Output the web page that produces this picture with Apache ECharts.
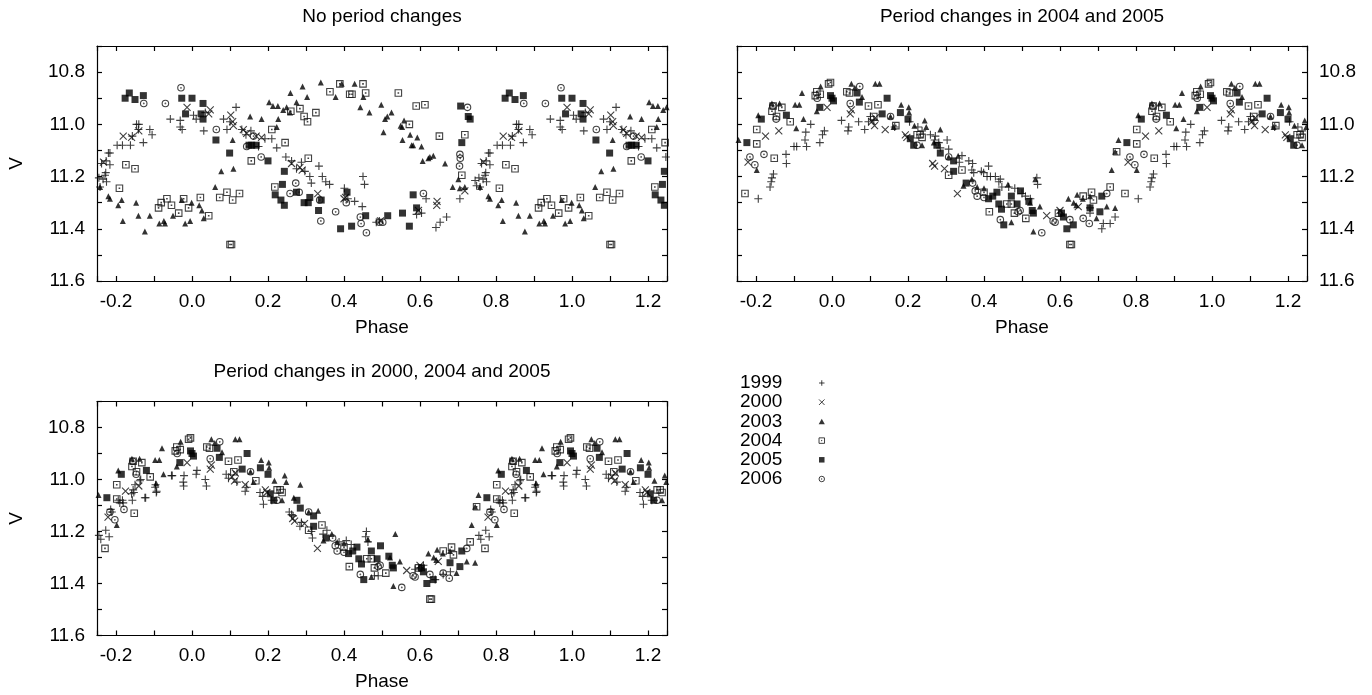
<!DOCTYPE html>
<html>
<head>
<meta charset="utf-8">
<title>Phase diagrams</title>
<script src="https://cdn.jsdelivr.net/npm/echarts@6/dist/echarts.min.js"></script>
<style>
  html, body { margin: 0; padding: 0; background: #fff; }
  #chart { width: 1372px; height: 695px; }
</style>
</head>
<body>
<div id="chart"></div>
<script>
// phase in [0,1), V magnitude; folded copies are added for -0.25..1.25
// panel 1: no period changes
const p1_1999 = [[0.755,11.205],[0.758,11.24],[0.766,11.21],[0.773,11.185],[0.784,11.155],[0.784,11.11],[0.803,11.08],[0.817,11.08],[0.838,11.08],[0.843,11.045],[0.860,11.00],[0.872,11.07],[0.889,11.02],[0.895,11.04],[0.943,10.98],[0.969,10.985],[0.969,11.01],[0.974,11.02],[0.004,10.965],[0.011,10.98],[0.031,11.025],[0.035,10.955],[0.083,10.98],[0.092,11.02],[0.116,10.935],[0.100,10.99],[0.131,11.02],[0.142,11.04],[0.155,11.025],[0.192,11.055],[0.210,11.055],[0.223,11.09],[0.175,11.085],[0.247,11.125],[0.262,11.14],[0.275,11.17],[0.288,11.145],[0.297,11.18],[0.310,11.20],[0.314,11.225],[0.334,11.16],[0.343,11.20],[0.352,11.22],[0.362,11.23],[0.401,11.245],[0.410,11.285],[0.428,11.295],[0.448,11.315],[0.450,11.20],[0.454,11.23],[0.485,11.375],[0.493,11.37],[0.591,11.345],[0.604,11.34],[0.616,11.285],[0.642,11.395],[0.653,11.375],[0.670,11.355],[0.705,11.285],[0.749,11.235],[0.745,11.215],[0.771,11.195],[0.775,11.22],[0.780,11.11],[0.762,11.15],[0.774,11.14],[0.854,11.00],[0.859,11.02]];
const p1_2000 = [[0.767,11.145],[0.819,11.045],[0.841,11.05],[0.860,11.025],[0.987,10.935],[0.048,10.945],[0.044,10.96],[0.102,10.965],[0.107,10.99],[0.109,11.005],[0.135,11.02],[0.144,11.035],[0.169,11.045],[0.183,11.05],[0.262,11.15],[0.290,11.175],[0.284,11.165],[0.331,11.265],[0.400,11.285],[0.404,11.28],[0.496,11.37],[0.596,11.33],[0.644,11.31],[0.645,11.295],[0.718,11.255]];
const p1_2003 = [[0.026,11.33],[0.031,11.36],[0.061,11.24],[0.077,11.18],[0.109,11.17],[0.107,11.06],[0.153,10.97],[0.183,10.98],[0.203,10.915],[0.213,10.93],[0.226,10.93],[0.240,10.945],[0.249,10.935],[0.258,10.955],[0.223,11.01],[0.227,10.98],[0.259,10.88],[0.275,10.915],[0.291,10.855],[0.303,10.895],[0.339,10.84],[0.378,10.895],[0.394,10.845],[0.428,10.845],[0.443,10.935],[0.451,10.895],[0.467,10.955],[0.498,10.925],[0.508,10.98],[0.514,10.97],[0.504,11.03],[0.525,10.955],[0.549,11.005],[0.553,11.01],[0.558,10.985],[0.554,11.06],[0.574,11.04],[0.578,11.08],[0.582,11.08],[0.593,11.05],[0.604,11.085],[0.607,11.14],[0.622,11.13],[0.626,11.125],[0.635,11.12],[0.666,11.15],[0.686,11.24],[0.701,11.21],[0.705,11.245],[0.718,11.24],[0.758,11.24],[0.780,11.275],[0.784,11.285],[0.806,11.31],[0.815,11.29],[0.818,11.37],[0.853,11.30],[0.859,11.35],[0.876,11.41],[0.889,11.35],[0.914,11.38],[0.926,11.37],[0.929,11.38],[0.950,11.35],[0.973,11.29],[0.982,11.38],[0.995,11.37],[0.999,11.30],[0.019,11.31]];
const p1_2004 = [[0.022,11.28],[0.044,11.35],[0.073,11.28],[0.092,11.26],[0.107,11.29],[0.125,11.265],[0.100,11.46],[0.104,11.46],[0.156,11.14],[0.210,11.02],[0.218,11.24],[0.245,11.07],[0.260,10.95],[0.284,10.94],[0.295,10.97],[0.304,10.99],[0.326,10.955],[0.306,11.13],[0.363,10.875],[0.389,10.845],[0.415,10.885],[0.421,10.885],[0.450,10.845],[0.457,10.88],[0.543,10.88],[0.590,10.93],[0.613,10.925],[0.572,11.00],[0.651,11.045],[0.718,11.04],[0.710,11.195],[0.809,11.245],[0.826,11.155],[0.850,11.17],[0.912,11.32],[0.919,11.30],[0.934,11.285],[0.946,11.31],[0.965,11.34],[0.978,11.285],[0.991,11.32]];
const p1_2005 = [[0.000,10.90],[0.029,10.92],[0.024,10.96],[0.029,10.98],[0.063,11.06],[0.099,11.11],[0.150,11.08],[0.157,11.08],[0.169,11.08],[0.200,11.14],[0.243,11.18],[0.238,11.23],[0.219,11.27],[0.234,11.29],[0.243,11.31],[0.275,11.26],[0.295,11.30],[0.306,11.30],[0.310,11.28],[0.340,11.29],[0.333,11.33],[0.408,11.26],[0.391,11.40],[0.420,11.39],[0.457,11.35],[0.515,11.35],[0.554,11.34],[0.572,11.39],[0.582,11.27],[0.591,11.32],[0.707,10.93],[0.727,10.97],[0.732,10.98],[0.710,11.07],[0.824,10.90],[0.835,10.88],[0.850,10.905],[0.872,10.89],[0.973,10.90],[0.983,10.96]];
const p1_2006 = [[0.971,10.86],[0.930,10.92],[0.873,10.92],[0.064,11.02],[0.144,11.085],[0.162,11.045],[0.182,11.125],[0.273,11.225],[0.258,11.265],[0.282,11.26],[0.336,11.29],[0.339,11.37],[0.378,11.335],[0.406,11.30],[0.443,11.355],[0.445,11.38],[0.459,11.415],[0.493,11.375],[0.502,11.375],[0.609,11.265],[0.725,10.935],[0.705,11.115],[0.706,11.13],[0.704,11.16]];

// panel 2: period changes in 2004 and 2005 (2000-2006 also used in panel 3)
const p2_1999 = [[0.025,10.985],[0.044,11.01],[0.042,11.025],[0.070,10.99],[0.086,11.02],[0.096,10.99],[0.101,10.97],[0.110,10.985],[0.165,11.01],[0.204,10.99],[0.226,11.01],[0.237,11.025],[0.259,11.04],[0.272,11.045],[0.270,11.06],[0.281,11.07],[0.285,11.09],[0.303,11.06],[0.307,11.095],[0.342,11.12],[0.335,11.145],[0.360,11.14],[0.370,11.15],[0.368,11.175],[0.373,11.185],[0.393,11.18],[0.399,11.185],[0.412,11.16],[0.408,11.20],[0.417,11.20],[0.430,11.20],[0.439,11.22],[0.443,11.21],[0.447,11.24],[0.465,11.24],[0.481,11.245],[0.500,11.265],[0.509,11.275],[0.522,11.285],[0.539,11.205],[0.541,11.23],[0.679,11.32],[0.679,11.34],[0.710,11.40],[0.714,11.38],[0.732,11.38],[0.745,11.355],[0.806,11.285],[0.837,11.24],[0.840,11.22],[0.842,11.205],[0.846,11.19],[0.879,11.115],[0.880,11.15],[0.900,11.085],[0.907,11.085],[0.929,11.06],[0.933,11.085],[0.931,11.03],[0.944,11.00],[0.968,11.07],[0.975,11.04],[0.980,11.025]];
const p2_2000 = [[0.987,10.935],[0.048,10.96],[0.051,10.945],[0.105,10.99],[0.112,11.005],[0.114,10.975],[0.140,11.02],[0.193,11.04],[0.197,11.05],[0.265,11.15],[0.270,11.16],[0.296,11.17],[0.330,11.265],[0.565,11.35],[0.600,11.33],[0.648,11.315],[0.779,11.145],[0.825,11.045],[0.860,11.025]];
const p2_2003 = [[0.051,10.845],[0.060,10.86],[0.114,10.845],[0.125,10.845],[0.079,10.895],[0.154,10.97],[0.162,11.01],[0.182,10.925],[0.202,10.935],[0.203,10.955],[0.217,11.005],[0.244,10.985],[0.248,11.01],[0.285,11.02],[0.237,11.08],[0.268,11.07],[0.307,11.125],[0.332,11.12],[0.368,11.21],[0.346,11.235],[0.382,11.24],[0.400,11.245],[0.463,11.23],[0.472,11.375],[0.530,11.41],[0.535,11.21],[0.521,11.30],[0.547,11.315],[0.622,11.285],[0.636,11.30],[0.643,11.31],[0.645,11.27],[0.660,11.285],[0.679,11.275],[0.696,11.36],[0.723,11.315],[0.745,11.32],[0.736,11.175],[0.745,11.105],[0.754,11.06],[0.802,11.175],[0.806,10.965],[0.842,10.92],[0.862,10.92],[0.903,10.925],[0.914,10.925],[0.906,11.015],[0.921,10.88],[0.925,10.98],[0.960,10.95],[0.970,10.855]];
const p2_2004 = [[0.991,10.845],[0.996,10.84],[0.960,10.875],[0.956,10.89],[0.969,10.885],[0.039,10.875],[0.046,10.88],[0.096,10.93],[0.121,10.925],[0.110,10.97],[0.168,11.005],[0.224,11.04],[0.232,11.04],[0.237,11.05],[0.307,11.195],[0.342,11.175],[0.400,11.26],[0.414,11.335],[0.460,11.305],[0.472,11.305],[0.480,11.34],[0.510,11.36],[0.596,11.34],[0.626,11.46],[0.630,11.46],[0.661,11.275],[0.683,11.26],[0.688,11.29],[0.732,11.24],[0.771,11.265],[0.749,11.105],[0.802,11.075],[0.802,11.02],[0.848,11.13],[0.845,10.93],[0.842,10.95],[0.854,10.97],[0.868,10.935],[0.890,10.99]];
const p2_2005 = [[0.996,10.89],[0.000,10.90],[0.004,10.91],[0.968,10.935],[0.066,10.88],[0.072,10.915],[0.145,10.90],[0.132,10.96],[0.180,10.955],[0.200,10.98],[0.206,11.055],[0.215,11.08],[0.276,11.08],[0.285,11.11],[0.320,11.14],[0.320,11.18],[0.353,11.225],[0.412,11.285],[0.423,11.275],[0.434,11.26],[0.439,11.305],[0.446,11.325],[0.452,11.385],[0.472,11.275],[0.487,11.305],[0.496,11.255],[0.518,11.295],[0.527,11.33],[0.530,11.34],[0.604,11.34],[0.609,11.355],[0.618,11.40],[0.635,11.385],[0.679,11.32],[0.705,11.335],[0.710,11.275],[0.776,11.07],[0.814,10.98],[0.880,10.965]];
const p2_2006 = [[0.073,10.855],[0.048,10.92],[0.154,10.97],[0.224,11.08],[0.307,11.125],[0.370,11.225],[0.377,11.255],[0.382,11.275],[0.400,11.28],[0.443,11.365],[0.490,11.335],[0.495,11.33],[0.552,11.415],[0.582,11.37],[0.587,11.375],[0.626,11.365],[0.661,11.36],[0.677,11.38],[0.723,11.265],[0.784,11.125],[0.797,11.155],[0.821,11.115],[0.844,10.93],[0.853,10.98],[0.961,10.90]];

// panel 3: period changes in 2000, 2004 and 2005 (only 1999 differs from panel 2)
const p3_1999 = [[0.755,11.215],[0.760,11.23],[0.773,11.195],[0.782,11.22],[0.786,11.115],[0.817,11.08],[0.819,11.09],[0.843,11.08],[0.847,11.05],[0.865,11.00],[0.878,11.07],[0.904,11.02],[0.907,11.045],[0.948,10.985],[0.979,10.985],[0.977,11.01],[0.978,11.025],[0.011,10.98],[0.013,10.965],[0.035,11.00],[0.038,11.025],[0.090,10.98],[0.096,10.995],[0.118,11.01],[0.140,11.045],[0.144,11.03],[0.186,11.065],[0.188,11.095],[0.179,11.05],[0.210,11.08],[0.256,11.125],[0.262,11.135],[0.266,11.14],[0.284,11.18],[0.288,11.165],[0.314,11.20],[0.317,11.225],[0.345,11.21],[0.355,11.195],[0.387,11.24],[0.406,11.235],[0.419,11.25],[0.459,11.20],[0.463,11.24],[0.457,11.22],[0.490,11.37],[0.480,11.37],[0.587,11.345],[0.598,11.34],[0.609,11.33],[0.640,11.385],[0.661,11.365],[0.680,11.355],[0.789,11.125],[0.806,11.08],[0.810,11.09],[0.841,11.055],[0.845,11.04],[0.850,11.02],[0.863,11.005],[0.876,11.07],[0.903,11.03],[0.906,11.05],[0.946,10.985]];

const years = ['1999', '2000', '2003', '2004', '2005', '2006'];
const xTickLabels = [-0.2, 0.0, 0.2, 0.4, 0.6, 0.8, 1.0, 1.2];
const yTickLabels = [10.8, 11.0, 11.2, 11.4, 11.6];
const titles = ['No period changes', 'Period changes in 2004 and 2005', 'Period changes in 2000, 2004 and 2005'];
const panelData = [
  [p1_1999, p1_2000, p1_2003, p1_2004, p1_2005, p1_2006],
  [p2_1999, p2_2000, p2_2003, p2_2004, p2_2005, p2_2006],
  [p3_1999, p2_2000, p2_2003, p2_2004, p2_2005, p2_2006]
];

const FONT = 'Liberation Sans, Arial, Helvetica, sans-serif';

// gnuplot-like point types (all paths so the legend keeps their aspect)
const marks = {
  '1999': { symbol: 'path://M0,5H10M5,0V10', size: 8, line: true },
  '2000': { symbol: 'path://M0,0L10,10M10,0L0,10', size: 7, line: true },
  '2003': { symbol: 'path://M5,0L10,9L0,9Z', size: 6, line: false },
  '2004': { symbol: 'path://M0,0H10V10H0ZM4.6,4.6H5.4V5.4H4.6Z', size: 6.5, line: true },
  '2005': { symbol: 'path://M0,0H10V10H0Z', size: 7, line: false },
  '2006': { symbol: 'path://M0,5A5,5,0,1,1,10,5A5,5,0,1,1,0,5ZM4.5,5A0.5,0.5,0,1,1,5.5,5A0.5,0.5,0,1,1,4.5,5Z', size: 6.5, line: true }
};

const layout = [
  { left: 97, top: 46, width: 570, height: 235, titleTop: 6.8, labels: 'left' },
  { left: 737, top: 46, width: 570, height: 235, titleTop: 6.8, labels: 'right' },
  { left: 97, top: 401.5, width: 570, height: 234, titleTop: 362.7, labels: 'left' }
];

function fold(points) {
  const out = [];
  points.forEach(function (p) {
    [-1, 0, 1].forEach(function (k) {
      const x = p[0] + k;
      if (x >= -0.25 && x <= 1.25) out.push([x, p[1]]);
    });
  });
  return out;
}

function near(list, v) {
  return list.some(function (t) { return Math.abs(t - v) < 1e-6; });
}

const lineStyle = { color: '#000', width: 1.2 };
const labelStyle = { fontSize: 19, color: '#000', fontFamily: FONT };

const grids = [], xAxes = [], yAxes = [], series = [], titleList = [];

layout.forEach(function (g, gi) {
  grids.push({ left: g.left, top: g.top, width: g.width, height: g.height });
  titleList.push({
    text: titles[gi], left: g.left + g.width / 2, top: g.titleTop, textAlign: 'center', padding: 0,
    textStyle: { fontSize: 19, fontWeight: 'normal', color: '#000', fontFamily: FONT, lineHeight: 19 }
  });
  ['bottom', 'top'].forEach(function (pos) {
    xAxes.push({
      gridIndex: gi, type: 'value', position: pos, min: -0.25, max: 1.25, splitNumber: 15,
      axisLine: { show: true, onZero: false, lineStyle: lineStyle },
      axisTick: { show: true, inside: true, length: 5, lineStyle: lineStyle },
      splitLine: { show: false },
      axisLabel: Object.assign({
        show: pos === 'bottom', margin: 11,
        formatter: function (v) { return near(xTickLabels, v) ? v.toFixed(1) : ''; }
      }, labelStyle),
      name: pos === 'bottom' ? 'Phase' : '', nameLocation: 'middle', nameGap: 37,
      nameTextStyle: labelStyle
    });
  });
  ['left', 'right'].forEach(function (pos) {
    yAxes.push({
      gridIndex: gi, type: 'value', position: pos, min: 10.7, max: 11.6, interval: 0.1, inverse: true,
      axisLine: { show: true, onZero: false, lineStyle: lineStyle },
      axisTick: { show: true, inside: true, length: 5, lineStyle: lineStyle },
      splitLine: { show: false },
      axisLabel: Object.assign({
        show: pos === g.labels, margin: 12,
        formatter: function (v) { return near(yTickLabels, v) ? v.toFixed(1) : ''; }
      }, labelStyle),
      name: (pos === 'left' && g.labels === 'left') ? 'V' : '', nameLocation: 'middle', nameGap: 71,
      nameTextStyle: labelStyle
    });
  });
  years.forEach(function (y, yi) {
    const m = marks[y];
    series.push({
      type: 'scatter', name: y, xAxisIndex: gi * 2, yAxisIndex: gi * 2,
      symbol: m.symbol, symbolSize: m.size,
      itemStyle: m.line
        ? { color: 'rgba(0,0,0,0)', borderColor: '#111', borderWidth: 1.1 }
        : { color: '#000', borderWidth: 0 },
      data: fold(panelData[gi][yi])
    });
  });
});

const chart = echarts.init(document.getElementById('chart'));
chart.setOption({
  animation: false,
  backgroundColor: '#fff',
  title: titleList,
  grid: grids,
  xAxis: xAxes,
  yAxis: yAxes,
  legend: {
    orient: 'vertical', left: 740, top: 373.5, padding: 0, itemGap: 0.2,
    align: 'right', itemWidth: 69, itemHeight: 5.5, symbolKeepAspect: true,
    selectedMode: false,
    itemStyle: { borderWidth: 1 },
    textStyle: { fontSize: 19, color: '#000', fontFamily: FONT, lineHeight: 19 },
    data: years
  },
  series: series
});
</script>
</body>
</html>
